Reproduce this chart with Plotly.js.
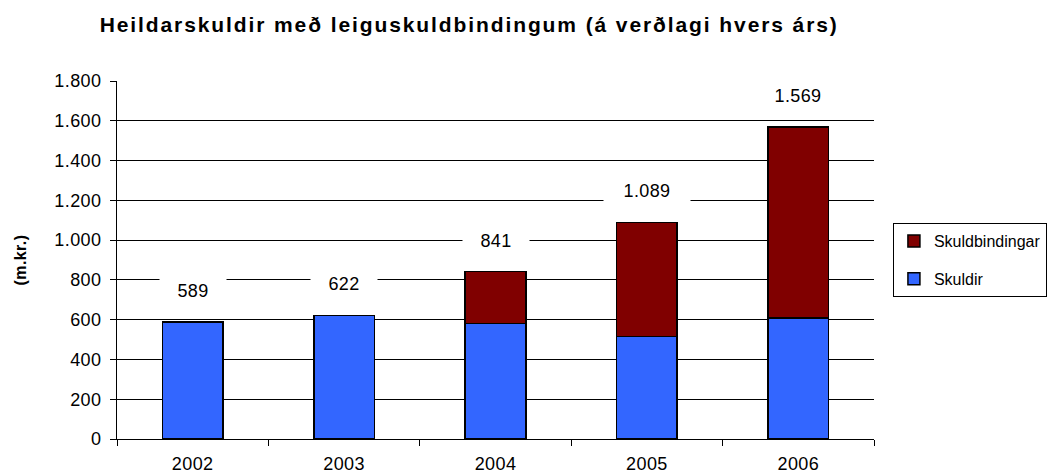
<!DOCTYPE html>
<html><head><meta charset="utf-8">
<script src="https://cdn.plot.ly/plotly-3.0.1.min.js"></script>
<style>
body{margin:0;background:#fff}
#chart .gtitle{letter-spacing:1.9px}
#chart .xtick text, #chart .ytick text, #chart .annotation-text{letter-spacing:0.4px}
</style>
</head><body>
<div id="chart" style="width:1052px;height:476px"></div>
<script>
const years = ['2002','2003','2004','2005','2006'];
const skuldir = [589, 622, 580, 515, 608];
const skuldbindingar = [0, 0, 261, 574, 961];
const totals = [589, 622, 841, 1089, 1569];
const yTicks = [0,200,400,600,800,1000,1200,1400,1600,1800];

function fmt(n){return String(n).replace(/\B(?=(\d{3})+(?!\d))/g,'.');}

const FONT = 'Liberation Sans, Arial';

const traces = [
  {type:'bar', name:'Skuldir', x:years, y:skuldir, width:0.4, legendgroup:'a', legendrank:2,
   marker:{color:'#3366FF', line:{color:'#000', width:1.5}}, hoverinfo:'none'},
  {type:'bar', name:'Skuldbindingar', x:years, y:skuldbindingar, width:0.4, legendgroup:'b', legendrank:1,
   marker:{color:'#800000', line:{color:'#000', width:1.5}}, hoverinfo:'none'}
];

const annotations = years.map((yr,i)=>{
  const t = fmt(totals[i]);
  return {
    x:i, y:totals[i], xref:'x', yref:'y', text:t, showarrow:false,
    yanchor:'bottom', yshift:17, bgcolor:'#fff', borderpad:3, width:10*t.length+30,
    font:{family:FONT, size:18, color:'#000'}
  };
});
annotations.push({
  text:'(m.kr.)', xref:'paper', yref:'paper', x:(20-117)/757, y:0.5,
  xanchor:'center', yanchor:'middle', textangle:-90, showarrow:false,
  font:{family:FONT, size:16, color:'#000', weight:'bold'}
});

const layout = {
  width:1052, height:476,
  margin:{l:117, r:178, t:81, b:37, autoexpand:false},
  paper_bgcolor:'#fff', plot_bgcolor:'#fff',
  barmode:'stack',
  separators:',.',
  title:{text:'Heildarskuldir með leiguskuldbindingum (á verðlagi hvers árs)',
    font:{family:FONT, size:21, color:'#000', weight:'bold'},
    x:0.446, xanchor:'center', xref:'container', y:0.948, yanchor:'middle', yref:'container'},
  xaxis:{type:'category', categoryarray:years, range:[-0.5,4.5], autorange:false,
    showline:true, linecolor:'#000', linewidth:1,
    ticks:'outside', tickson:'boundaries', ticklen:6, tickcolor:'#000', ticklabelstandoff:8,
    showgrid:false, tickfont:{family:FONT, size:18, color:'#000'}},
  yaxis:{range:[0,1800], autorange:false, tickvals:yTicks, ticktext:yTicks.map(fmt),
    showline:true, linecolor:'#000', linewidth:1, ticks:'outside', ticklen:6, tickcolor:'#000',
    ticklabelstandoff:5,
    showgrid:true, gridcolor:'#000', gridwidth:1, zeroline:false,
    tickfont:{family:FONT, size:18, color:'#000'}},
  showlegend:true,
  legend:{x:1.025, xanchor:'left', y:0.603, yanchor:'top', traceorder:'grouped',
    tracegroupgap:14,
    bordercolor:'#000', borderwidth:1, bgcolor:'#fff',
    font:{family:FONT, size:16, color:'#000'}, itemwidth:30},
  annotations:annotations
};

Plotly.newPlot('chart', traces, layout, {displayModeBar:false, staticPlot:true});
</script>
</body></html>
